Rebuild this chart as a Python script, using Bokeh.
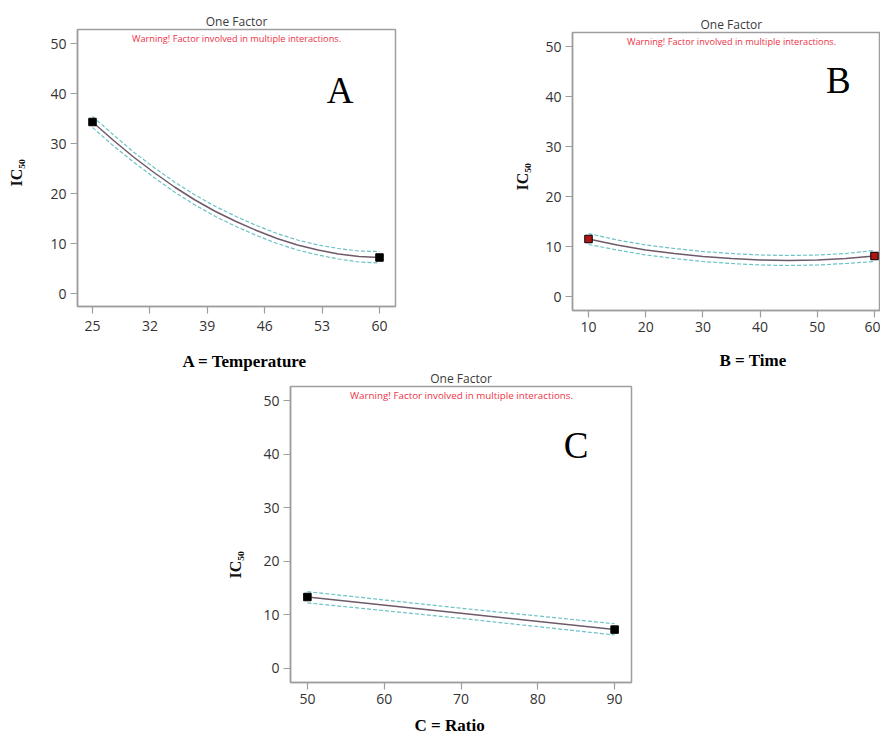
from bokeh.plotting import figure
from bokeh.layouts import column, row
from bokeh.models import Label, Range1d, FixedTicker, Spacer, Title
from bokeh.embed import file_html
from bokeh.resources import INLINE

# ---------------- data ----------------
# Panel A : Temperature
temp_x = [25, 27.5, 30, 32.5, 35, 37.5, 40, 42.5, 45, 47.5, 50, 52.5, 55, 57.5, 60]
temp_ic50 = [34.3, 30.7, 27.3, 24.2, 21.3, 18.7, 16.4, 14.4, 12.6, 11.0, 9.7, 8.7, 7.9, 7.4, 7.2]
temp_upper = [35.4, 31.8, 28.3, 25.2, 22.3, 19.7, 17.4, 15.4, 13.6, 12.0, 10.7, 9.7, 9.0, 8.5, 8.4]
temp_lower = [33.2, 29.6, 26.3, 23.2, 20.3, 17.7, 15.4, 13.4, 11.6, 10.0, 8.7, 7.7, 6.9, 6.3, 6.1]
temp_design_x = [25, 60]
temp_design_y = [34.3, 7.2]
temp_ticks = [25, 32, 39, 46, 53, 60]

# Panel B : Time
time_x = [10, 15, 20, 25, 30, 35, 40, 45, 50, 55, 60]
time_ic50 = [11.5, 10.3, 9.3, 8.6, 8.0, 7.6, 7.3, 7.2, 7.3, 7.6, 8.1]
time_upper = [12.6, 11.3, 10.3, 9.6, 9.0, 8.6, 8.3, 8.2, 8.3, 8.6, 9.2]
time_lower = [10.4, 9.3, 8.3, 7.6, 7.0, 6.6, 6.3, 6.2, 6.3, 6.6, 7.0]
time_design_x = [10, 60]
time_design_y = [11.5, 8.1]
time_ticks = [10, 20, 30, 40, 50, 60]

# Panel C : Ratio
ratio_x = [50, 70, 90]
ratio_ic50 = [13.3, 10.25, 7.2]
ratio_upper = [14.3, 11.2, 8.3]
ratio_lower = [12.2, 9.3, 6.2]
ratio_design_x = [50, 90]
ratio_design_y = [13.3, 7.2]
ratio_ticks = [50, 60, 70, 80, 90]

y_ticks = [0, 10, 20, 30, 40, 50]

# ---------------- styling ----------------
FRAME = "#9e9e9e"
TICKTXT = "#333333"
CENTER = "#6e5a68"
BAND = "#6cc3c6"
WARN = "#ec3346"
SANS = "Open Sans"
SERIF = "Liberation Serif"


def make_panel(width, height, xr, yr, mb, xs, ys, up, lo, dx, dy, xticks, marker_color,
               letter, letter_xy, warn_xy, xlabel, xlabel_offset, xgap,
               ylabel_offset, ygap, xstand=4, warn_size="9.2px",
               title_align="center", title_offset=0):
    p = figure(width=width, height=height, x_range=Range1d(*xr), y_range=Range1d(*yr),
               output_backend="svg", toolbar_location=None,
               min_border_left=mb[0], min_border_right=mb[1],
               min_border_top=mb[2], min_border_bottom=mb[3])
    p.background_fill_color = "white"
    p.border_fill_color = None
    p.outline_line_color = FRAME
    p.outline_line_width = 1.5
    p.xgrid.visible = False
    p.ygrid.visible = False

    p.title.text = "One Factor"
    p.title.align = title_align
    p.title.offset = title_offset
    p.title.text_font = SANS
    p.title.text_font_size = "12px"
    p.title.text_font_style = "normal"
    p.title.text_color = "#3a3a3a"
    p.title.standoff = 0

    for ax in (p.xaxis[0], p.yaxis[0]):
        ax.axis_line_color = FRAME
        ax.axis_line_width = 1.5
        ax.major_tick_line_color = FRAME
        ax.major_tick_line_width = 1.2
        ax.major_tick_in = 0
        ax.major_tick_out = 7
        ax.minor_tick_line_color = None
        ax.major_label_text_font = SANS
        ax.major_label_text_font_size = "14px"
        ax.major_label_text_color = TICKTXT
        ax.major_label_standoff = 4
        # blank, tiny axis label used only as a spacer before the outer titles
        ax.axis_label = " "
        ax.axis_label_text_font_size = "1px"
    p.xaxis.major_label_standoff = xstand
    p.xaxis.axis_label_standoff = xgap
    p.yaxis.axis_label_standoff = ygap
    p.xaxis.ticker = FixedTicker(ticks=xticks)
    p.yaxis.ticker = FixedTicker(ticks=y_ticks)

    # confidence band (dashed) and predicted line
    p.line(xs, up, line_color=BAND, line_width=1.2, line_dash="4 2")
    p.line(xs, lo, line_color=BAND, line_width=1.2, line_dash="4 2")
    p.line(xs, ys, line_color=CENTER, line_width=1.5)
    p.scatter(dx, dy, marker="square", size=7.5, fill_color=marker_color,
              line_color="black", line_width=1)

    p.add_layout(Label(x=warn_xy[0], y=warn_xy[1], text="Warning! Factor involved in multiple interactions.",
                       text_font=SANS, text_font_size=warn_size, text_color=WARN,
                       text_align="center", text_baseline="middle"))
    p.add_layout(Label(x=letter_xy[0], y=letter_xy[1], text=letter,
                       text_font=SERIF, text_font_size="37px", text_color="black",
                       text_align="center", text_baseline="middle"))

    p.add_layout(Title(text=xlabel, align="left", offset=xlabel_offset, standoff=0,
                       text_font=SERIF, text_font_size="17px", text_font_style="bold",
                       text_color="black"), "below")
    p.add_layout(Title(text="IC\u2085\u2080", align="left", offset=ylabel_offset, standoff=0,
                       text_font=SERIF, text_font_size="16px", text_font_style="bold",
                       text_color="#111111"), "left")
    return p


pA = make_panel(500, 372, (23.17, 61.95), (-2.6, 52.8), (77, 105, 29, 66),
                temp_x, temp_ic50, temp_upper, temp_lower, temp_design_x, temp_design_y,
                temp_ticks, "black", "A", (55.2, 40.6), (42.56, 51.0),
                "A = Temperature", 105, 12, 120, 19, xstand=7)

pB = make_panel(380, 369, (7.2, 61.05), (-2.8, 52.8), (72, 0, 29, 62),
                time_x, time_ic50, time_upper, time_lower, time_design_x, time_design_y,
                time_ticks, "#b01515", "B", (53.7, 43.2), (35.0, 51.0),
                "B = Time", 147, 10, 120, 8,
                title_align="left", title_offset=128)

pC = make_panel(426, 367, (47.8, 92.2), (-2.7, 52.7), (75, 10, 16, 52),
                ratio_x, ratio_ic50, ratio_upper, ratio_lower, ratio_design_x, ratio_design_y,
                ratio_ticks, "black", "C", (85.0, 41.6), (70.07, 51.0),
                "C = Ratio", 124, 3, 104, 13, warn_size="9.8px")

colB = column(Spacer(width=380, height=3), pB)
rowC = row(Spacer(width=215, height=367), pC)
try:
    rowC.margin = (-5, 0, 0, 0)
except Exception:
    pass

layout = column(row(pA, colB), rowC)

open("out.html", "w").write(file_html(layout, INLINE))
